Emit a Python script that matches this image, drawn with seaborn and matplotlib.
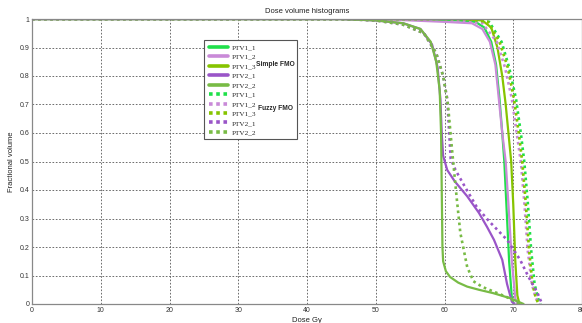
import numpy as np
import pandas as pd
import seaborn as sns
import matplotlib.pyplot as plt
from matplotlib.patches import Rectangle

# colours per structure
colors = {
    'PTV1_1': '#1fe04a',
    'PTV1_2': '#c98ad8',
    'PTV1_3': '#86c400',
    'PTV2_1': '#9a55c8',
    'PTV2_2': '#78bb45',
}

# simple FMO curves (solid), dose in Gy vs fractional volume
ptv1_1_x = [0, 55, 62, 64.5, 65.8, 66.8, 67.5, 68.0, 68.4, 68.7, 69.0, 69.4, 69.8, 70.1]
ptv1_1_y = [1, 1, 0.995, 0.99, 0.97, 0.92, 0.84, 0.72, 0.6, 0.5, 0.35, 0.15, 0.02, 0]
ptv1_2_x = [0, 50, 60, 64, 65.5, 66.6, 67.4, 67.9, 68.4, 68.9, 69.3, 69.8, 70.3, 70.6]
ptv1_2_y = [1, 1, 0.99, 0.985, 0.965, 0.92, 0.84, 0.72, 0.6, 0.5, 0.35, 0.15, 0.02, 0]
ptv1_3_x = [0, 62, 65.5, 66.8, 67.7, 68.4, 68.9, 69.3, 69.7, 70.0, 70.3, 70.6, 70.9]
ptv1_3_y = [1, 1, 0.995, 0.97, 0.9, 0.8, 0.7, 0.6, 0.5, 0.35, 0.15, 0.03, 0]
ptv2_1_x = [0, 45, 50, 54, 56.5, 58.2, 59.0, 59.4, 59.6, 59.8, 60.4, 61.5, 63.3, 65, 66.2, 67.2, 67.8, 68.4, 69.1, 69.8, 70.2]
ptv2_1_y = [1, 1, 0.995, 0.985, 0.965, 0.91, 0.83, 0.72, 0.6, 0.52, 0.47, 0.43, 0.378, 0.32, 0.27, 0.225, 0.19, 0.155, 0.07, 0.008, 0]
ptv2_2_x = [0, 45, 50, 54, 56.5, 58, 58.8, 59.3, 59.5, 59.6, 59.7, 59.8, 60.2, 60.8, 62, 63.3, 65, 67.1, 69.6, 71.5]
ptv2_2_y = [1, 1, 0.995, 0.985, 0.965, 0.92, 0.85, 0.75, 0.6, 0.4, 0.2, 0.15, 0.115, 0.095, 0.075, 0.061, 0.05, 0.038, 0.02, 0]

# fuzzy FMO curves (dotted)
fz1_1_x = [0, 63, 66.5, 68.3, 69.4, 70.4, 71.1, 71.6, 72.1, 72.6, 73.1, 73.6, 74.0]
fz1_1_y = [1, 1, 0.99, 0.92, 0.83, 0.72, 0.6, 0.5, 0.36, 0.19, 0.07, 0.02, 0]
fz1_2_x = [0, 60, 65.5, 67.6, 68.8, 69.8, 70.5, 71.1, 71.6, 72.1, 72.7, 73.3, 73.8]
fz1_2_y = [1, 1, 0.985, 0.92, 0.83, 0.72, 0.6, 0.5, 0.36, 0.19, 0.07, 0.02, 0]
fz1_3_x = [0, 63, 66.3, 68, 69.2, 70.1, 70.8, 71.3, 71.8, 72.3, 72.8, 73.3, 73.7]
fz1_3_y = [1, 1, 0.99, 0.92, 0.83, 0.72, 0.6, 0.5, 0.36, 0.19, 0.07, 0.02, 0]
fz2_1_x = [0, 45, 50, 54, 57, 58.8, 59.8, 60.4, 60.9, 61.6, 63, 64.7, 66.5, 69.1, 71, 72.2, 73.5, 74.2]
fz2_1_y = [1, 1, 0.995, 0.98, 0.95, 0.88, 0.8, 0.72, 0.51, 0.47, 0.41, 0.34, 0.29, 0.225, 0.155, 0.096, 0.04, 0]
fz2_2_x = [0, 45, 50, 54, 57, 58.8, 59.8, 60.5, 61.1, 61.8, 62.3, 63.3, 64.2, 65.5, 67, 69, 71]
fz2_2_y = [1, 1, 0.995, 0.98, 0.95, 0.88, 0.8, 0.7, 0.54, 0.366, 0.25, 0.13, 0.08, 0.06, 0.045, 0.025, 0]

simple = [('PTV1_1', ptv1_1_x, ptv1_1_y), ('PTV1_2', ptv1_2_x, ptv1_2_y),
          ('PTV1_3', ptv1_3_x, ptv1_3_y), ('PTV2_1', ptv2_1_x, ptv2_1_y),
          ('PTV2_2', ptv2_2_x, ptv2_2_y)]
fuzzy = [('PTV1_1', fz1_1_x, fz1_1_y), ('PTV1_2', fz1_2_x, fz1_2_y),
         ('PTV1_3', fz1_3_x, fz1_3_y), ('PTV2_1', fz2_1_x, fz2_1_y),
         ('PTV2_2', fz2_2_x, fz2_2_y)]

sns.set_style('white')
plt.rcParams['font.family'] = ['Liberation Sans', 'DejaVu Sans']

fig = plt.figure(figsize=(5.82, 3.23), dpi=100)
ax = fig.add_axes([32 / 582, 19 / 323, 550 / 582, 285 / 323])

for name, xs, ys in simple:
    sns.lineplot(x=xs, y=ys, ax=ax, color=colors[name], lw=1.6, estimator=None, sort=False)
for name, xs, ys in fuzzy:
    sns.lineplot(x=xs, y=ys, ax=ax, color=colors[name], lw=1.9, ls=(0, (1, 1.3)),
                 estimator=None, sort=False)

ax.set_xlim(0, 80)
ax.set_ylim(0, 1)
ax.set_xticks(np.arange(0, 81, 10))
ax.set_yticks(np.arange(0, 1.01, 0.1))
ax.set_yticklabels(['0'] + [f'{v:.1f}' for v in np.arange(0.1, 0.95, 0.1)] + ['1'])
ax.grid(True, ls=(0, (2, 2)), color='#555555', lw=0.6)
ax.tick_params(labelsize=5, colors='#333333', length=2, direction='in', pad=2)
for s in ax.spines.values():
    s.set_color('#888888')
    s.set_linewidth(0.9)
ax.set_title('Dose volume histograms', fontsize=5.5, pad=4, color='#222222')
ax.set_xlabel('Dose Gy', fontsize=5.5, labelpad=2, color='#222222')
ax.set_ylabel('Fractional volume', fontsize=5.5, labelpad=3, color='#222222')

# legend box drawn by hand with the group labels inside
lines = []
labels = []
for name, _, _ in simple:
    lines.append(plt.Line2D([], [], color=colors[name], lw=2.6))
    labels.append(name)
for name, _, _ in fuzzy:
    lines.append(plt.Line2D([], [], color=colors[name], lw=2.6, ls=(0, (1, 1))))
    labels.append(name)
leg = fig.legend(lines, labels, loc='upper left', bbox_to_anchor=(203 / 582, 1 - 38.5 / 323),
                 frameon=False, handlelength=2.6, handletextpad=0.6,
                 labelspacing=0.47, borderpad=0.3, prop={'family': 'Liberation Serif', 'size': 5.2})
fig.add_artist(Rectangle((204 / 582, 1 - 139 / 323), 93 / 582, 99 / 323,
                         transform=fig.transFigure, fill=True, facecolor='white',
                         edgecolor='#555555', lw=0.8, zorder=1))
leg.set_zorder(3)
fig.text(256 / 582, 1 - 65 / 323, 'Simple FMO', fontsize=4.8, fontweight='bold', va='center', zorder=4)
fig.text(258 / 582, 1 - 108 / 323, 'Fuzzy FMO', fontsize=4.8, fontweight='bold', va='center', zorder=4)

fig.savefig('out.png', dpi=100)
